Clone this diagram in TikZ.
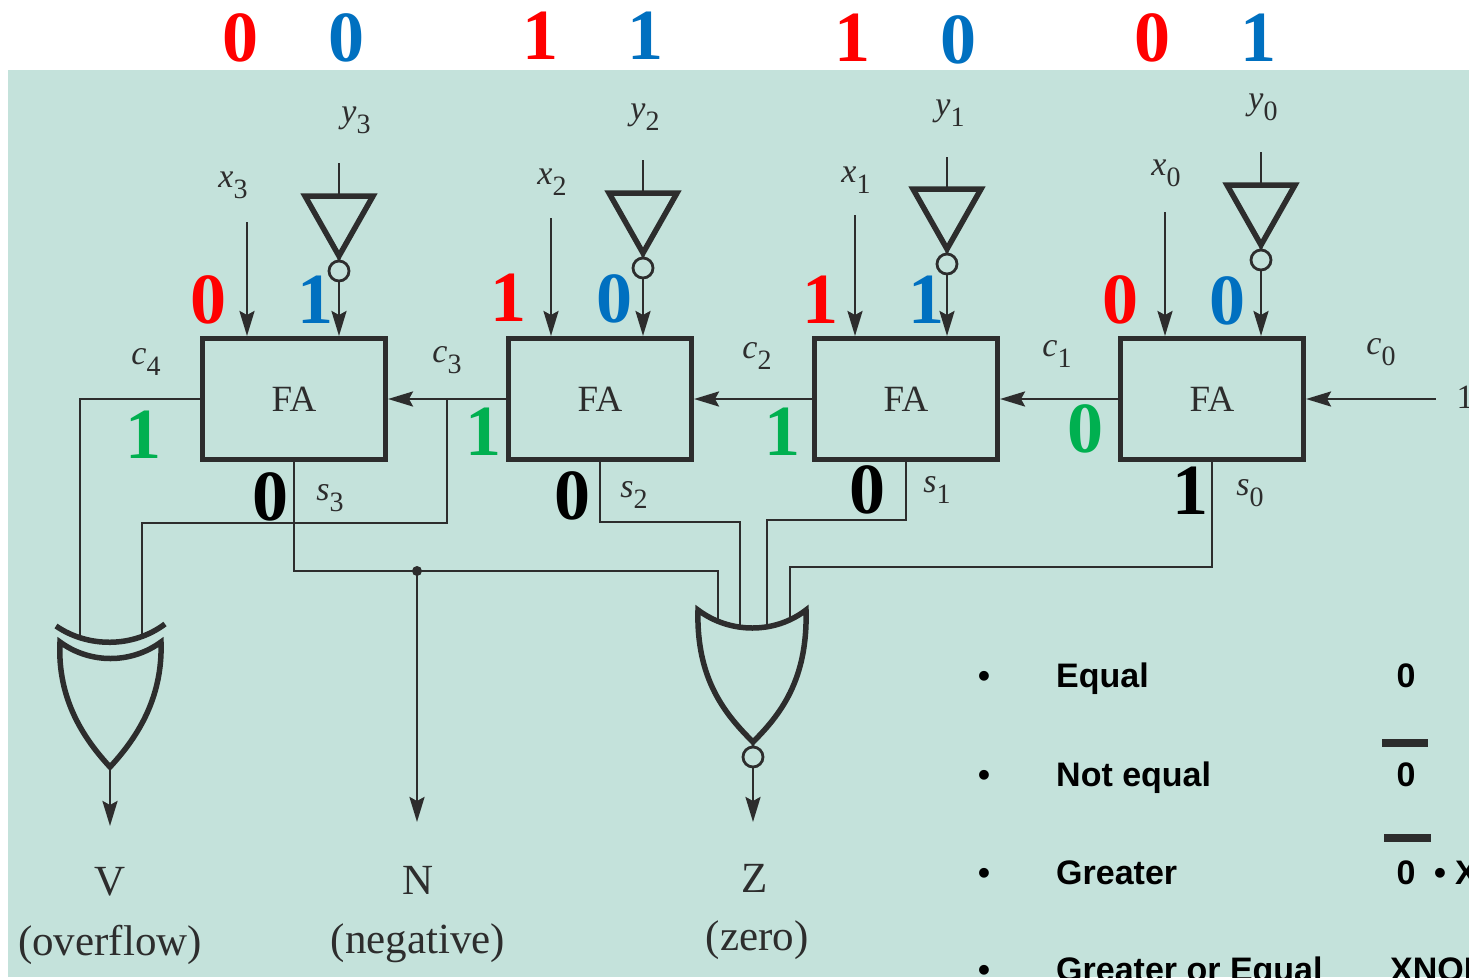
\documentclass[tikz,border=0pt]{standalone}
\usepackage{fontspec}
\setmainfont{Liberation Serif}
\newfontfamily\arial{Liberation Sans}
\usetikzlibrary{positioning, arrows.meta}
\definecolor{paper}{RGB}{196,226,219}
\definecolor{ink}{RGB}{45,45,45}
\definecolor{redbit}{RGB}{255,0,0}
\definecolor{bluebit}{RGB}{0,112,192}
\definecolor{greenbit}{RGB}{0,176,80}
\newcommand{\sig}[2]{\textit{#1}\raisebox{-0.33em}{\fontsize{28}{28}\selectfont #2}}
\tikzset{>={Stealth[length=25pt, width=15pt, inset=4pt]}, node distance=306pt,
  fa/.style={draw=ink, line width=5pt, minimum width=183pt, minimum height=121pt,
    text=ink, font=\fontsize{37}{37}\selectfont},
  wire/.style={draw=ink, line width=2.8pt},
  gate/.style={draw=ink, line width=5.5pt},
  bit/.style={font=\bfseries\fontsize{72}{72}\selectfont, inner sep=0pt},
  lbl/.style={font=\fontsize{34}{34}\selectfont, text=ink, inner sep=0pt},
  flag/.style={font=\fontsize{43}{43}\selectfont, text=ink, inner sep=0pt},
  item/.style={font=\arial\bfseries\fontsize{34}{34}\selectfont, anchor=base west, inner sep=0pt},
  inv/.pic={
    \coordinate (-in) at (0,0);
    \draw[gate] (-34,0) -- (34,0) -- (0,60) -- cycle;
    \draw[wire] (0,60) -- (0,65) (0,75) circle (10);
    \coordinate (-out) at (0,85);
  }
}

\begin{document}
\begin{tikzpicture}[x=1pt, y=-1pt]
    \useasboundingbox (0,0) rectangle (1469,977);
    \clip (0,0) rectangle (1469,977);
    \fill[white] (0,0) rectangle (1469,977);
    \fill[paper] (8,70) rectangle (1469,977);

    % adders
    \node[fa] (fa3) at (294,399) {FA};
    \node[fa, right of=fa3] (fa2) {FA};
    \node[fa, right of=fa2] (fa1) {FA};
    \node[fa, right of=fa1] (fa0) {FA};

    % operand inputs
    \coordinate (x3) at (247,222); \coordinate (y3) at (339,163);
    \coordinate (x2) at (551,218); \coordinate (y2) at (643,160);
    \coordinate (x1) at (855,215); \coordinate (y1) at (947,157);
    \coordinate (x0) at (1165,212); \coordinate (y0) at (1261,152);
    \pic (i3) at (339,196) {inv};
    \pic (i2) at (643,193) {inv};
    \pic (i1) at (947,189) {inv};
    \pic (i0) at (1261,185) {inv};
    \draw[wire, ->] (x3) -- (x3 |- fa3.north);
    \draw[wire, ->] (x2) -- (x2 |- fa2.north);
    \draw[wire, ->] (x1) -- (x1 |- fa1.north);
    \draw[wire, ->] (x0) -- (x0 |- fa0.north);
    \draw[wire] (y3) -- (i3-in) (y2) -- (i2-in) (y1) -- (i1-in) (y0) -- (i0-in);
    \draw[wire, ->] (i3-out) -- (i3-out |- fa3.north);
    \draw[wire, ->] (i2-out) -- (i2-out |- fa2.north);
    \draw[wire, ->] (i1-out) -- (i1-out |- fa1.north);
    \draw[wire, ->] (i0-out) -- (i0-out |- fa0.north);
    \node[lbl] (lx3) at (233,185) {\sig{x}{3}};
    \node[lbl] (ly3) at (356,120) {\sig{y}{3}};
    \node[lbl] (lx2) at (552,182) {\sig{x}{2}};
    \node[lbl] (ly2) at (645,117) {\sig{y}{2}};
    \node[lbl] (lx1) at (856,180) {\sig{x}{1}};
    \node[lbl] (ly1) at (950,113) {\sig{y}{1}};
    \node[lbl] (lx0) at (1166,173) {\sig{x}{0}};
    \node[lbl] (ly0) at (1263,107) {\sig{y}{0}};

    % carries
    \coordinate (cin) at (1436,399);
    \node[lbl] (one) at (1465,397) {1};
    \draw[wire, ->] (cin) -- (fa0.east);
    \draw[wire, ->] (fa0.west) -- (fa1.east);
    \draw[wire, ->] (fa1.west) -- (fa2.east);
    \draw[wire, ->] (fa2.west) -- (fa3.east);
    \node[lbl] (lc4) at (146,362) {\sig{c}{4}};
    \node[lbl] (lc3) at (447,360) {\sig{c}{3}};
    \node[lbl] (lc2) at (757,356) {\sig{c}{2}};
    \node[lbl] (lc1) at (1057,354) {\sig{c}{1}};
    \node[lbl] (lc0) at (1381,352) {\sig{c}{0}};

    % overflow
    \coordinate (b3) at (447,399);
    \coordinate (vA) at (80,637);
    \coordinate (vB) at (142,634);
    \coordinate (vout) at (110,767);
    \coordinate (vend) at (110,826);
    \draw[gate] (56,626) .. controls (88,648) and (133,648) .. (165,624);
    \draw[gate] (60,642) .. controls (90,664) and (131,664) .. (161,642)
        .. controls (163,700) and (135,740) .. (110,767)
        .. controls (85,740) and (57,700) .. (60,642) -- cycle;
    \draw[wire] (fa3.west) -| (vA);
    \draw[wire] (b3) -- ++(0,124) -| (vB);
    \draw[wire, ->] (vout) -- (vend);

    % negative
    \coordinate (nj) at (417,571);
    \coordinate (nend) at (417,822);

    % zero
    \coordinate (zA) at (718,621);
    \coordinate (zB) at (740,627);
    \coordinate (zC) at (767,627);
    \coordinate (zD) at (790,621);
    \coordinate (zout) at (753,767);
    \coordinate (zend) at (753,822);
    \draw[gate] (698,610) .. controls (730,634) and (775,634) .. (806,610)
        .. controls (808,680) and (780,715) .. (753,742)
        .. controls (726,715) and (696,680) .. (698,610) -- cycle;
    \draw[wire] (753,742) -- (753,747) (753,757) circle (10);
    \draw[wire] (fa3.south) |- (nj) -| (zA);
    \draw[wire] (fa2.south) -- ++(0,60) -| (zB);
    \draw[wire] (fa1.south) -- ++(0,58) -| (zC);
    \draw[wire] (fa0.south) -- ++(0,105) -| (zD);
    \fill[ink] (nj) circle (5);
    \draw[wire, ->] (nj) -- (nend);
    \draw[wire, ->] (zout) -- (zend);
    \node[lbl] (ls3) at (330,498) {\sig{s}{3}};
    \node[lbl] (ls2) at (634,495) {\sig{s}{2}};
    \node[lbl] (ls1) at (937,490) {\sig{s}{1}};
    \node[lbl] (ls0) at (1250,493) {\sig{s}{0}};

    % flags
    \node[flag] (V) at (110,882) {V};
    \node[flag] (ov) at (110,945) {(overflow)};
    \node[flag] (N) at (418,880) {N};
    \node[flag] (ng) at (418,943) {(negative)};
    \node[flag] (Z) at (755,878) {Z};
    \node[flag] (zr) at (757,940) {(zero)};

    % bit values
    \node[bit, redbit] (tx3) at (240,38) {0};
    \node[bit, bluebit] (ty3) at (346,38) {0};
    \node[bit, redbit] (tx2) at (540,36) {1};
    \node[bit, bluebit] (ty2) at (645,36) {1};
    \node[bit, redbit] (tx1) at (852,38) {1};
    \node[bit, bluebit] (ty1) at (958,40) {0};
    \node[bit, redbit] (tx0) at (1152,38) {0};
    \node[bit, bluebit] (ty0) at (1258,38) {1};
    \node[bit, redbit] (ax3) at (208,300) {0};
    \node[bit, bluebit] (ay3) at (315,300) {1};
    \node[bit, redbit] (ax2) at (508,298) {1};
    \node[bit, bluebit] (ay2) at (614,299) {0};
    \node[bit, redbit] (ax1) at (820,300) {1};
    \node[bit, bluebit] (ay1) at (926,300) {1};
    \node[bit, redbit] (ax0) at (1120,300) {0};
    \node[bit, bluebit] (ay0) at (1227,301) {0};
    \node[bit, greenbit] (k4) at (143,435) {1};
    \node[bit, greenbit] (k3) at (483,432) {1};
    \node[bit, greenbit] (k2) at (782,432) {1};
    \node[bit, greenbit] (k1) at (1085,429) {0};
    \node[bit] (r3) at (270,497) {0};
    \node[bit] (r2) at (572,496) {0};
    \node[bit] (r1) at (867,490) {0};
    \node[bit] (r0) at (1190,491) {1};

    % conditions
    \node[item, anchor=base] (d1) at (984,687) {\textbullet};
    \node[item, anchor=base] (d2) at (984,786) {\textbullet};
    \node[item, anchor=base] (d3) at (984,884) {\textbullet};
    \node[item, anchor=base] (d4) at (984,981) {\textbullet};
    \node[item] (eq) at (1056,687) {Equal};
    \node[item] (ne) at (1056,786) {Not equal};
    \node[item] (gt) at (1056,884) {Greater};
    \node[item] (ge) at (1056,981) {Greater or Equal};
    \node[item, anchor=base] (e1) at (1406,687) {0};
    \node[item, anchor=base] (e2) at (1406,786) {0};
    \node[item, anchor=base] (e3) at (1406,884) {0};
    \node[item, anchor=base] (e4) at (1440,884) {\textbullet};
    \node[item] (e5) at (1455,884) {X};
    \node[item] (e6) at (1390,981) {XNOR};
    \draw[ink, line width=8pt] (1382,743) -- (1428,743);
    \draw[ink, line width=8pt] (1384,838) -- (1431,838);
\end{tikzpicture}
\end{document}
